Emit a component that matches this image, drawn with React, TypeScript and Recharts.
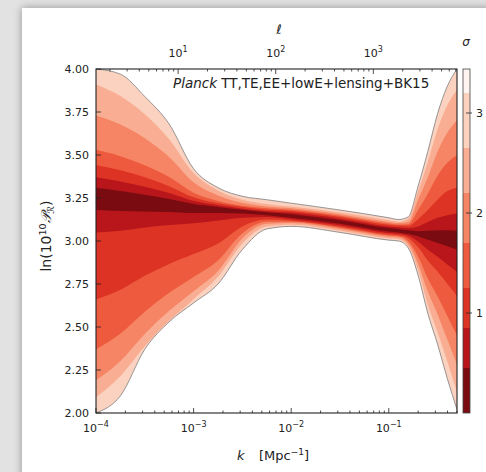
import { Area, Bar, BarChart, ComposedChart, Line, XAxis, YAxis } from "recharts";

// sample points in k [Mpc^-1]
const kValues = [
  1e-4, 1.78e-4, 3.16e-4, 5.62e-4, 1e-3, 1.78e-3, 3.16e-3, 5.62e-3, 1e-2,
  3.16e-2, 0.1, 0.126, 0.158, 0.2, 0.251, 0.316, 0.398, 0.5,
];

// contour bands, outermost (lightest) to innermost (darkest)
const band7Hi = [4.0, 3.97, 3.84, 3.68, 3.42, 3.31, 3.26, 3.24, 3.22, 3.18, 3.135, 3.125, 3.14, 3.32, 3.52, 3.74, 3.9, 4.0];
const band7Lo = [2.0, 2.1, 2.37, 2.53, 2.64, 2.75, 2.95, 3.07, 3.085, 3.05, 3.005, 3.0, 2.96, 2.8, 2.58, 2.4, 2.2, 2.02];
const band6Hi = [3.91, 3.843, 3.737, 3.592, 3.395, 3.294, 3.24, 3.215, 3.2, 3.165, 3.12, 3.112, 3.13, 3.29, 3.46, 3.65, 3.79, 3.88];
const band6Lo = [2.09, 2.215, 2.388, 2.536, 2.662, 2.792, 2.985, 3.085, 3.095, 3.06, 3.015, 3.01, 2.97, 2.83, 2.63, 2.47, 2.3, 2.12];
const band5Hi = [3.73, 3.677, 3.597, 3.488, 3.341, 3.265, 3.222, 3.2, 3.19, 3.155, 3.11, 3.104, 3.11, 3.24, 3.37, 3.52, 3.63, 3.7];
const band5Lo = [2.19, 2.303, 2.46, 2.594, 2.708, 2.826, 3.015, 3.1, 3.105, 3.07, 3.025, 3.02, 2.985, 2.867, 2.706, 2.574, 2.427, 2.28];
const band4Hi = [3.53, 3.493, 3.441, 3.372, 3.281, 3.233, 3.205, 3.19, 3.182, 3.147, 3.102, 3.096, 3.097, 3.18, 3.275, 3.38, 3.455, 3.5];
const band4Lo = [2.37, 2.462, 2.589, 2.699, 2.791, 2.887, 3.045, 3.112, 3.112, 3.077, 3.032, 3.027, 3.0, 2.908, 2.782, 2.679, 2.564, 2.45];
const band3Hi = [3.44, 3.411, 3.37, 3.319, 3.254, 3.219, 3.197, 3.182, 3.175, 3.14, 3.095, 3.09, 3.088, 3.127, 3.18, 3.24, 3.29, 3.31];
const band3Lo = [2.66, 2.717, 2.798, 2.867, 2.924, 2.986, 3.085, 3.125, 3.118, 3.083, 3.038, 3.033, 3.018, 2.963, 2.886, 2.822, 2.751, 2.68];
const band2Hi = [3.37, 3.346, 3.316, 3.279, 3.233, 3.208, 3.188, 3.173, 3.165, 3.13, 3.085, 3.08, 3.076, 3.085, 3.11, 3.135, 3.15, 3.16];
const band2Lo = [3.05, 3.06, 3.079, 3.093, 3.103, 3.119, 3.135, 3.14, 3.127, 3.092, 3.047, 3.042, 3.03, 2.997, 2.949, 2.908, 2.864, 2.82];
const band1Hi = [3.31, 3.291, 3.269, 3.244, 3.215, 3.198, 3.182, 3.167, 3.155, 3.12, 3.075, 3.07, 3.062, 3.057, 3.06, 3.063, 3.063, 3.06];
const band1Lo = [3.18, 3.175, 3.172, 3.169, 3.163, 3.163, 3.16, 3.15, 3.135, 3.1, 3.055, 3.05, 3.04, 3.028, 3.0075, 2.989, 2.97, 2.95];

const bandColors = ["#fbd2c0", "#f9ae93", "#f58564", "#ee5a3d", "#dc3324", "#b8161b", "#7a0b10"];

// colour bar (sigma)
const sigmaEdges = [0, 0.45, 0.85, 1.25, 1.7, 2.2, 2.65, 3.2, 3.44];
const sigmaColors = ["#7a0b10", "#b8161b", "#dc3324", "#ee5a3d", "#f58564", "#f9ae93", "#fbd2c0", "#fff5f0"];
const sigmaTicks = [1, 2, 3];

// axes
const yTicks = [2.0, 2.25, 2.5, 2.75, 3.0, 3.25, 3.5, 3.75, 4.0];
const kMajor = [1e-4, 1e-3, 1e-2, 1e-1];
const kMajorExp = ["\u22124", "\u22123", "\u22122", "\u22121"];
const ellMajor = [10, 100, 1000];
const ellMajorExp = ["1", "2", "3"];
const mantissas = [2, 3, 4, 5, 6, 7, 8, 9];
const kDomain = [1e-4, 0.5];
const ellPerK = 14400; // multipole per unit k, for the top axis
const ellDomain = [kDomain[0] * ellPerK, kDomain[1] * ellPerK];

const bands = [
  { key: "b7", lo: band7Lo, hi: band7Hi },
  { key: "b6", lo: band6Lo, hi: band6Hi },
  { key: "b5", lo: band5Lo, hi: band5Hi },
  { key: "b4", lo: band4Lo, hi: band4Hi },
  { key: "b3", lo: band3Lo, hi: band3Hi },
  { key: "b2", lo: band2Lo, hi: band2Hi },
  { key: "b1", lo: band1Lo, hi: band1Hi },
];

const rows = kValues.map((k, i) => {
  const r: any = { k, ell: k * ellPerK };
  bands.forEach((b) => (r[b.key] = [b.lo[i], b.hi[i]]));
  return r;
});

const cbRow: any = { name: "sigma" };
sigmaColors.forEach((_, i) => (cbRow["s" + i] = sigmaEdges[i + 1] - sigmaEdges[i]));

const withMinors = (majors: number[], min: number, max: number) =>
  [...majors, ...majors.flatMap((d) => mantissas.map((m) => m * d))].filter(
    (v) => v <= max * 1.0001 && v >= min * 0.9999
  );

const kTicks = withMinors(kMajor, kDomain[0], kDomain[1]);
const ellTicks = withMinors([1, ...ellMajor], ellDomain[0], ellDomain[1]);

const ink = "#222";

function LogTick(props: any) {
  const { x, y, payload, majors, exps, top } = props;
  const v = payload.value;
  const idx = majors.findIndex((m: number) => Math.abs(m - v) / m < 1e-6);
  const major = idx >= 0;
  const len = major ? 5 : 2.5;
  const dir = top ? 1 : -1;
  return (
    <g>
      <line x1={x} x2={x} y1={y} y2={y + dir * len} stroke={ink} strokeWidth={0.8} />
      {major && (
        <text x={x} y={top ? y - 12 : y + 19} textAnchor="middle" fontSize={11} fill={ink}>
          10
          <tspan dy={-5} fontSize={8}>
            {exps[idx]}
          </tspan>
        </text>
      )}
    </g>
  );
}

function YTick({ x, y, payload }: any) {
  return (
    <g>
      <line x1={x} x2={x + 5} y1={y} y2={y} stroke={ink} strokeWidth={0.8} />
      <text x={x - 7} y={y + 4} textAnchor="end" fontSize={11} fill={ink}>
        {payload.value.toFixed(2)}
      </text>
    </g>
  );
}

function SigmaTick({ x, y, payload }: any) {
  return (
    <g>
      <line x1={x - 4} x2={x + 2} y1={y} y2={y} stroke={ink} strokeWidth={0.8} />
      <text x={x + 6} y={y + 4} textAnchor="start" fontSize={11} fill={ink}>
        {payload.value}
      </text>
    </g>
  );
}

export default function App() {
  return (
    <div
      style={{
        position: "absolute",
        left: 0,
        top: 0,
        width: 486,
        height: 472,
        overflow: "hidden",
        background: "#e2e2e2",
        fontFamily: "DejaVu Sans",
      }}
    >
      <div
        style={{
          position: "absolute",
          left: 22,
          top: 8,
          width: 480,
          height: 480,
          background: "#fff",
          boxShadow: "0 0 8px rgba(0,0,0,0.35)",
        }}
      />
      <div style={{ position: "absolute", left: 0, top: 0 }}>
        <ComposedChart width={486} height={472} data={rows} margin={{ top: 39, right: 29, bottom: 29, left: 46 }}>
          <XAxis
            dataKey="k"
            type="number"
            scale="log"
            domain={kDomain}
            allowDataOverflow
            ticks={kTicks}
            interval={0}
            axisLine={false}
            tickLine={false}
            tickSize={0}
            tickMargin={0}
            height={30}
            tick={(p: any) => <LogTick {...p} majors={kMajor} exps={kMajorExp} />}
          />
          <XAxis
            xAxisId="ell"
            dataKey="ell"
            orientation="top"
            type="number"
            scale="log"
            domain={ellDomain}
            allowDataOverflow
            ticks={ellTicks}
            interval={0}
            axisLine={false}
            tickLine={false}
            tickSize={0}
            tickMargin={0}
            height={30}
            tick={(p: any) => <LogTick {...p} majors={ellMajor} exps={ellMajorExp} top />}
          />
          <YAxis
            type="number"
            domain={[2, 4]}
            allowDataOverflow
            ticks={yTicks}
            interval={0}
            width={50}
            axisLine={false}
            tickLine={false}
            tickSize={0}
            tickMargin={0}
            tick={<YTick />}
          />
          {bands.map((b, i) => (
            <Area
              key={b.key}
              dataKey={b.key}
              type="monotone"
              fill={bandColors[i]}
              fillOpacity={1}
              stroke={i === 0 ? "#7d7d7d" : "none"}
              strokeWidth={0.8}
              isAnimationActive={false}
              dot={false}
              activeDot={false}
            />
          ))}
          {/* invisible series so the multipole axis gets drawn */}
          <Line
            xAxisId="ell"
            dataKey={(r: any) => r.b1[0]}
            stroke="none"
            dot={false}
            activeDot={false}
            isAnimationActive={false}
          />
        </ComposedChart>
      </div>
      <div style={{ position: "absolute", left: 463, top: 0 }}>
        <BarChart width={23} height={472} data={[cbRow]} barCategoryGap={0} margin={{ top: 69, right: 0, bottom: 59, left: 0 }}>
          <XAxis dataKey="name" type="category" hide />
          <YAxis
            orientation="right"
            type="number"
            domain={[0, sigmaEdges[sigmaEdges.length - 1]]}
            allowDataOverflow
            ticks={sigmaTicks}
            width={16}
            axisLine={false}
            tickLine={false}
            tickSize={0}
            tickMargin={0}
            tick={<SigmaTick />}
          />
          {sigmaColors.map((c, i) => (
            <Bar key={i} dataKey={"s" + i} stackId="cb" fill={c} isAnimationActive={false} />
          ))}
        </BarChart>
      </div>
      <svg width={486} height={472} style={{ position: "absolute", left: 0, top: 0, pointerEvents: "none" }}>
        <rect x={96} y={69} width={361} height={344} fill="none" stroke={ink} strokeWidth={1.1} />
        <rect x={463} y={69} width={7} height={344} fill="none" stroke="#444" strokeWidth={0.8} />
        <text x={279} y={34} textAnchor="middle" fontSize={13} fontStyle="italic" fill={ink}>
          ℓ
        </text>
        <text x={466} y={46} textAnchor="middle" fontSize={12} fontStyle="italic" fill={ink}>
          σ
        </text>
        <text x={173} y={88} fontSize={13.5} fill={ink}>
          <tspan fontStyle="italic">Planck</tspan> TT,TE,EE+lowE+lensing+BK15
        </text>
        <text x={237} y={460} fontSize={13} fill={ink}>
          <tspan fontStyle="italic">k</tspan>
          <tspan x={259}>[Mpc</tspan>
          <tspan dy={-5} fontSize={9}>
            {"\u22121"}
          </tspan>
          <tspan dy={5}>]</tspan>
        </text>
        <text transform="translate(51 236) rotate(-90)" textAnchor="middle" fontSize={14} fill={ink}>
          ln(10
          <tspan dy={-5} fontSize={9.5}>
            10
          </tspan>
          <tspan dy={5} fontStyle="italic">
            𝒫
          </tspan>
          <tspan dy={3} fontSize={9.5} fontStyle="italic">
            ℛ
          </tspan>
          <tspan dy={-3}>)</tspan>
        </text>
      </svg>
    </div>
  );
}
